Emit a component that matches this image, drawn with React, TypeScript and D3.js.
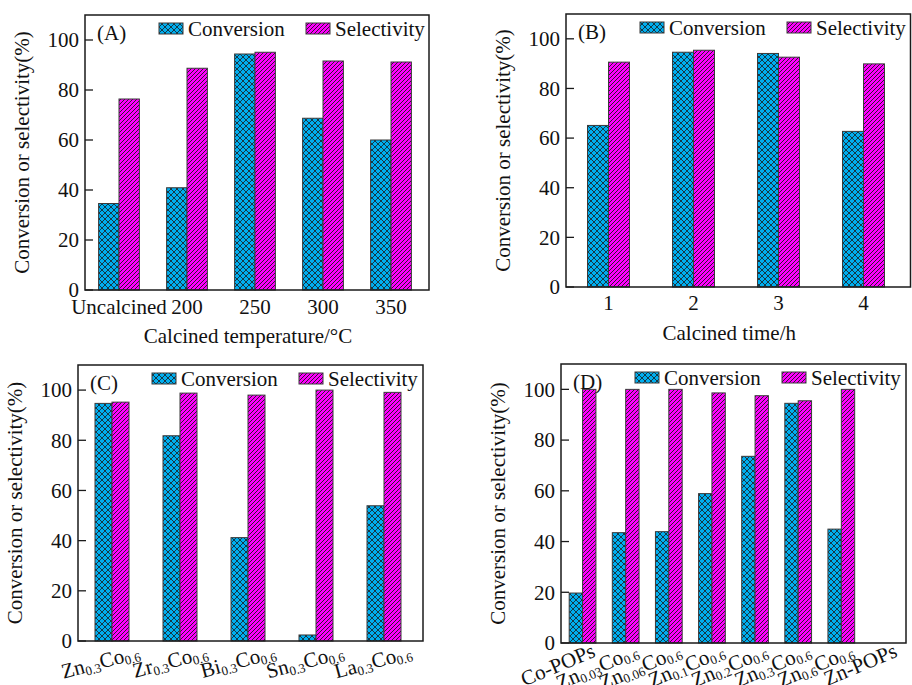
import { useEffect, useRef } from "react"
import * as d3 from "d3"

// (A) calcination temperature
const tempCategories = ["Uncalcined", "200", "250", "300", "350"]
const tempConversion = [34.6, 40.9, 94.4, 68.7, 60.0]
const tempSelectivity = [76.4, 88.7, 95.1, 91.6, 91.2]

// (B) calcination time
const timeCategories = ["1", "2", "3", "4"]
const timeConversion = [65.1, 94.6, 94.1, 62.7]
const timeSelectivity = [90.6, 95.4, 92.6, 89.9]

// (C) second metal
const metalCategories = ["Zn0.3Co0.6", "Zr0.3Co0.6", "Bi0.3Co0.6", "Sn0.3Co0.6", "La0.3Co0.6"]
const metalConversion = [94.7, 81.8, 41.2, 2.4, 53.9]
const metalSelectivity = [95.2, 98.8, 98.0, 100, 99.1]

// (D) Zn/Co ratio
const ratioCategories = [
  "Co-POPs",
  "Zn0.03Co0.6",
  "Zn0.06Co0.6",
  "Zn0.1Co0.6",
  "Zn0.2Co0.6",
  "Zn0.3Co0.6",
  "Zn0.6Co0.6",
  "Zn-POPs",
]
const ratioConversion: (number | null)[] = [19.7, 43.5, 43.9, 58.9, 73.6, 94.5, 44.9, null]
const ratioSelectivity: (number | null)[] = [100, 100, 100, 98.6, 97.5, 95.5, 100, null]

const yTicks = [0, 20, 40, 60, 80, 100]
const yTitle = "Conversion or selectivity(%)"
const seriesNames = ["Conversion", "Selectivity"]

const FONT = "Liberation Serif"

type Panel = {
  tag: string
  categories: string[]
  conversion: (number | null)[]
  selectivity: (number | null)[]
  xTitle: string | null
  frame: { left: number; top: number; right: number; bottom: number }
  bandEnd: number // right end of the band range (offset from frame right)
  barFrac: number
  rotate: number
  labelDx: number
  labelDy: number
  subShift: number
}

export default function App() {
  const svgRef = useRef<SVGSVGElement>(null)

  useEffect(() => {
    if (!svgRef.current) return
    const svg = d3.select(svgRef.current)
    svg.selectAll("*").remove()

    const panels: Panel[] = [
      {
        tag: "(A)",
        categories: tempCategories,
        conversion: tempConversion,
        selectivity: tempSelectivity,
        xTitle: "Calcined temperature/\u00b0C",
        frame: { left: 85, top: 15, right: 429, bottom: 290 },
        bandEnd: -4,
        barFrac: 0.3,
        rotate: 0,
        labelDx: 0,
        labelDy: 24,
        subShift: 0,
      },
      {
        tag: "(B)",
        categories: timeCategories,
        conversion: timeConversion,
        selectivity: timeSelectivity,
        xTitle: "Calcined time/h",
        frame: { left: 566, top: 14, right: 910.5, bottom: 287 },
        bandEnd: -4.5,
        barFrac: 0.247,
        rotate: 0,
        labelDx: 0,
        labelDy: 23,
        subShift: 0,
      },
      {
        tag: "(C)",
        categories: metalCategories,
        conversion: metalConversion,
        selectivity: metalSelectivity,
        xTitle: null,
        frame: { left: 78, top: 365, right: 423, bottom: 641 },
        bandEnd: -5,
        barFrac: 0.25,
        rotate: -15,
        labelDx: 29,
        labelDy: 17,
        subShift: 3,
      },
      {
        tag: "(D)",
        categories: ratioCategories,
        conversion: ratioConversion,
        selectivity: ratioSelectivity,
        xTitle: null,
        frame: { left: 561, top: 364, right: 906, bottom: 643 },
        bandEnd: 0,
        barFrac: 0.31,
        rotate: -23,
        labelDx: 14,
        labelDy: 13,
        subShift: 3,
      },
    ]

    // hatch patterns
    const defs = svg.append("defs")
    const cross = defs
      .append("pattern")
      .attr("id", "crossHatch")
      .attr("patternUnits", "userSpaceOnUse")
      .attr("width", 6)
      .attr("height", 6)
    cross.append("rect").attr("width", 6).attr("height", 6).attr("fill", "#00aeef")
    cross
      .append("path")
      .attr("d", "M0,0 L6,6 M6,0 L0,6 M-1,5 L1,7 M5,-1 L7,1 M-1,1 L1,-1 M5,7 L7,5")
      .attr("stroke", "#1a1a1a")
      .attr("stroke-width", 0.8)

    const diag = defs
      .append("pattern")
      .attr("id", "diagHatch")
      .attr("patternUnits", "userSpaceOnUse")
      .attr("width", 4)
      .attr("height", 4)
    diag.append("rect").attr("width", 4).attr("height", 4).attr("fill", "#ff00ff")
    diag
      .append("path")
      .attr("d", "M0,4 L4,0 M-1,1 L1,-1 M3,5 L5,3")
      .attr("stroke", "#1a1a1a")
      .attr("stroke-width", 0.9)

    const fills = ["url(#crossHatch)", "url(#diagHatch)"]

    // all text goes through here so the serif face is set on each element
    const addText = (g: d3.Selection<SVGGElement, unknown, null, undefined>) =>
      g
        .append("text")
        .attr("font-family", FONT)
        .attr("font-size", 21)
        .attr("fill", "#111")

    // writes "Zn0.3Co0.6" with the numbers after element symbols as subscripts
    const writeLabel = (
      text: d3.Selection<SVGTextElement, unknown, null, undefined>,
      label: string,
      subShift: number
    ) => {
      const parts = label.match(/[A-Za-z-]+|[\d.]+/g) || [label]
      let shift = 0
      parts.forEach((p, i) => {
        const isSub = i > 0 && /^[\d.]+$/.test(p)
        const target = isSub ? subShift : 0
        text
          .append("tspan")
          .attr("dy", target - shift)
          .attr("font-size", isSub ? 13 : 21)
          .text(p)
        shift = target
      })
    }

    panels.forEach((p) => {
      const { left, top, right, bottom } = p.frame
      const g = svg.append("g")

      const y = d3.scaleLinear().domain([0, 110]).range([bottom, top])
      const x = d3
        .scaleBand<string>()
        .domain(p.categories)
        .range([left, right + p.bandEnd])
        .padding(0)
      const barW = x.bandwidth() * p.barFrac

      // bars
      p.categories.forEach((c, i) => {
        const cx = (x(c) ?? 0) + x.bandwidth() / 2
        ;[p.conversion[i], p.selectivity[i]].forEach((v, k) => {
          if (v == null) return
          g.append("rect")
            .attr("x", k === 0 ? cx - barW : cx)
            .attr("y", y(v))
            .attr("width", barW)
            .attr("height", y(0) - y(v))
            .attr("fill", fills[k])
            .attr("stroke", "#3a3a3a")
            .attr("stroke-width", 1)
        })

        // category label
        const lx = cx + p.labelDx
        const ly = bottom + p.labelDy
        const t = addText(g)
          .attr("x", lx)
          .attr("y", ly)
          .attr("text-anchor", p.rotate ? "end" : "middle")
        if (p.rotate) t.attr("transform", `rotate(${p.rotate},${lx},${ly})`)
        writeLabel(t, c, p.subShift)
      })

      // frame
      g.append("rect")
        .attr("x", left)
        .attr("y", top)
        .attr("width", right - left)
        .attr("height", bottom - top)
        .attr("fill", "none")
        .attr("stroke", "#1a1a1a")
        .attr("stroke-width", 1.5)

      // y ticks (inward) and labels
      yTicks.forEach((tv) => {
        g.append("line")
          .attr("x1", left)
          .attr("x2", left + 8)
          .attr("y1", y(tv))
          .attr("y2", y(tv))
          .attr("stroke", "#1a1a1a")
          .attr("stroke-width", 1.3)
        addText(g)
          .attr("x", left - 6)
          .attr("y", y(tv))
          .attr("dy", "0.35em")
          .attr("text-anchor", "end")
          .text(tv)
      })

      // y title
      const tx = left - 56
      const ty = (top + bottom) / 2
      addText(g)
        .attr("transform", `translate(${tx},${ty}) rotate(-90)`)
        .attr("text-anchor", "middle")
        .text(yTitle)

      // x title
      if (p.xTitle) {
        addText(g)
          .attr("x", (left + right) / 2 - 9)
          .attr("y", bottom + 53)
          .attr("text-anchor", "middle")
          .text(p.xTitle)
      }

      // panel tag
      addText(g)
        .attr("x", left + 12)
        .attr("y", top + 25)
        .text(p.tag)

      // legend
      const legendX = [left + 74, left + 221]
      seriesNames.forEach((name, k) => {
        g.append("rect")
          .attr("x", legendX[k])
          .attr("y", top + 8)
          .attr("width", 24)
          .attr("height", 11)
          .attr("fill", fills[k])
          .attr("stroke", "#3a3a3a")
          .attr("stroke-width", 1)
        addText(g)
          .attr("x", legendX[k] + 29)
          .attr("y", top + 21)
          .text(name)
      })
    })
  }, [])

  return (
    <svg
      ref={svgRef}
      width={912}
      height={685}
      style={{
        position: "absolute",
        left: 0,
        top: 0,
        background: "#fff",
        fontFamily: "'Liberation Serif', serif",
      }}
    />
  )
}
